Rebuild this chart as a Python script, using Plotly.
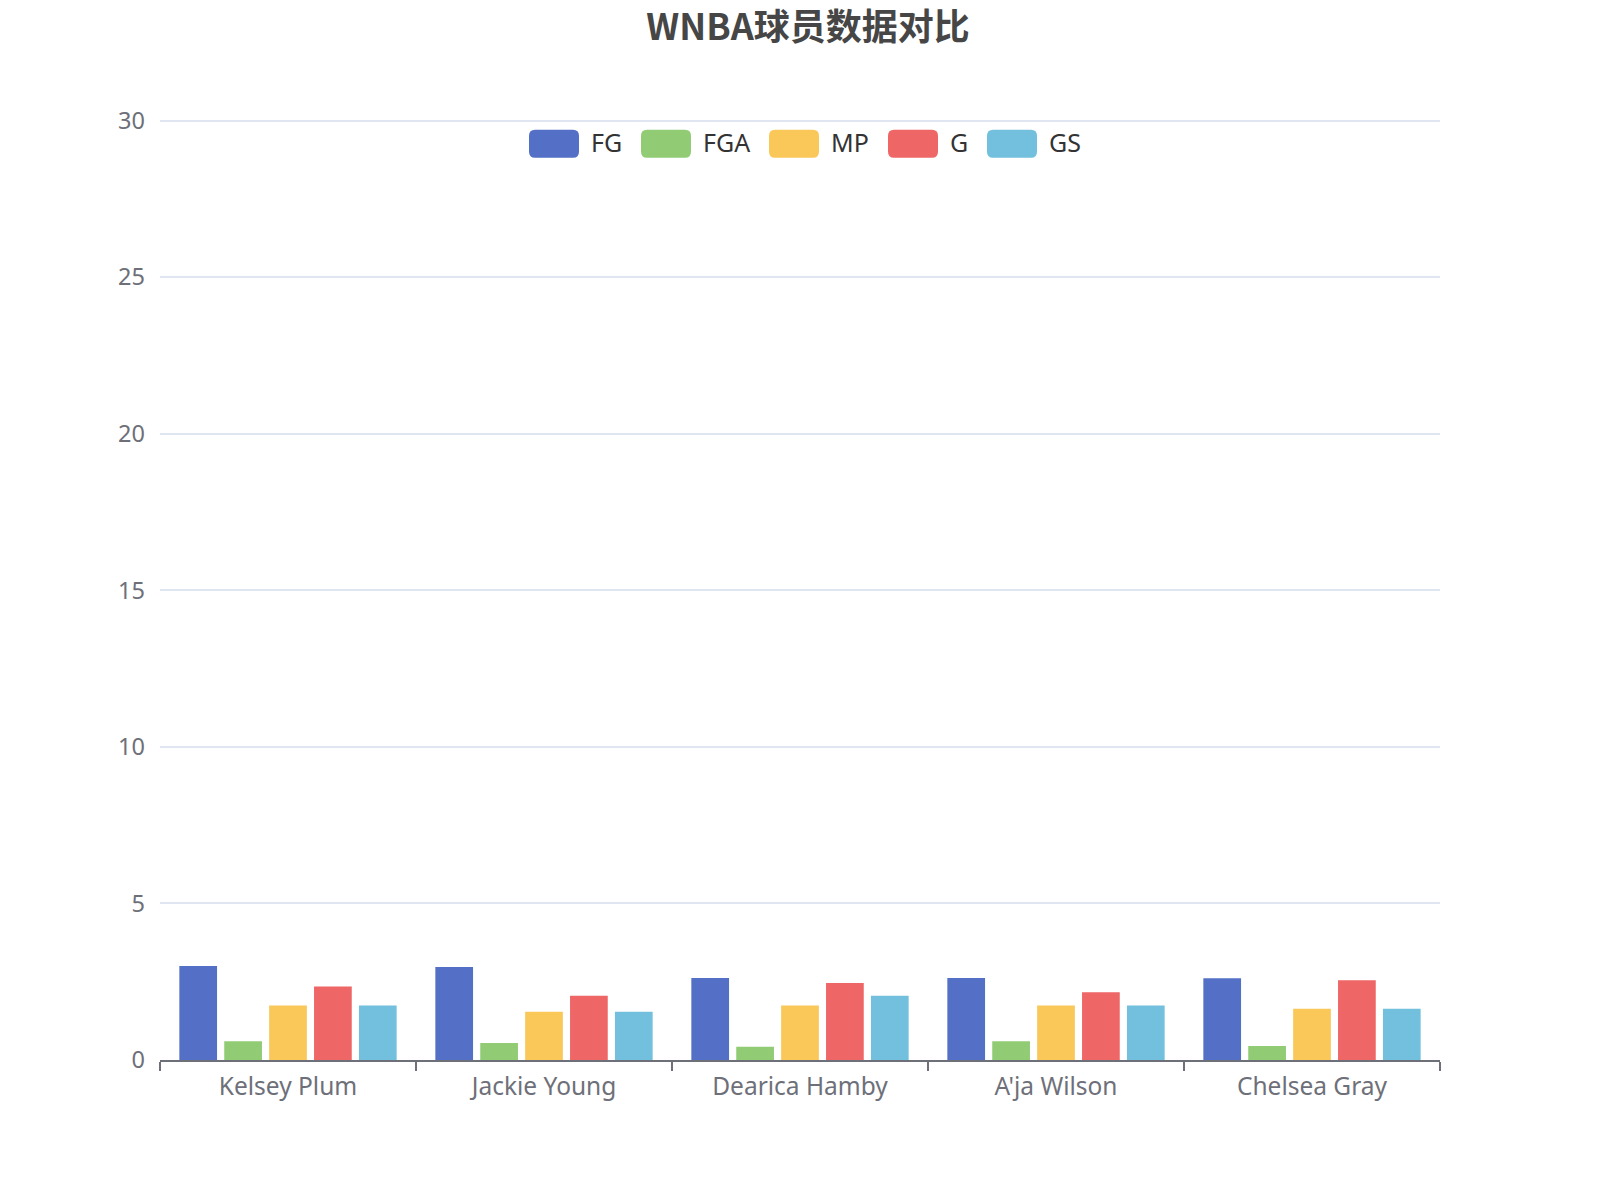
import plotly.graph_objects as go

# data
players = ["Kelsey Plum", "Jackie Young", "Dearica Hamby", "A'ja Wilson", "Chelsea Gray"]
series_names = ["FG", "FGA", "MP", "G", "GS"]
fg = [3.0, 2.97, 2.62, 2.62, 2.61]
fga = [0.6, 0.54, 0.42, 0.6, 0.45]
mp = [1.74, 1.54, 1.74, 1.74, 1.64]
g = [2.35, 2.05, 2.46, 2.16, 2.55]
gs = [1.74, 1.54, 2.05, 1.74, 1.64]
colors = ["#5470c6", "#91cc75", "#fac858", "#ee6666", "#73c0de"]
y_max = 30.15  # a bit above 30 so the top gridline gets drawn

# page body has an 8px margin, so everything is placed 8px up/left
OFF = 8
W, H = 1600, 1200
unit = (1060 - 121) / 30
top_px = 1060 - y_max * unit
L, R, T, B = 160 - OFF, 160 + OFF, top_px - OFF, 140 + OFF
pw, ph = W - L - R, H - T - B


def px_x(x):
    return (x - OFF - L) / pw


def px_y(y):
    return (H - B - (y - OFF)) / ph


def rounded_rect(x0, y0, x1, y1, r):
    # rounded rectangle path, given in page pixels, converted to paper coords
    pts = [
        ("M", x0 + r, y0), ("L", x1 - r, y0), ("Q", x1, y0, x1, y0 + r),
        ("L", x1, y1 - r), ("Q", x1, y1, x1 - r, y1), ("L", x0 + r, y1),
        ("Q", x0, y1, x0, y1 - r), ("L", x0, y0 + r), ("Q", x0, y0, x0 + r, y0),
    ]
    out = ""
    for p in pts:
        coords = p[1:]
        s = []
        for i in range(0, len(coords), 2):
            s.append(f"{px_x(coords[i]):.5f},{px_y(coords[i + 1]):.5f}")
        out += p[0] + " ".join(s) + " "
    return out + "Z"


fig = go.Figure()
for name, vals, col in zip(series_names, [fg, fga, mp, g, gs], colors):
    fig.add_trace(go.Bar(x=players, y=vals, name=name, marker_color=col,
                         marker_line_width=0, showlegend=False))

# legend drawn by hand so it looks like the echarts one
swatch_left = [529, 641, 769, 888, 987]
shapes = []
annotations = []
for name, col, xl in zip(series_names, colors, swatch_left):
    shapes.append(dict(type="path", xref="paper", yref="paper",
                       path=rounded_rect(xl, 130, xl + 50, 158, 6),
                       fillcolor=col, line_width=0))
    annotations.append(dict(x=px_x(xl + 60), y=px_y(142), xref="paper", yref="paper",
                            text=name, showarrow=False, xanchor="left", yanchor="middle",
                            font=dict(size=25, color="#333333", family="Noto Sans")))

fig.update_layout(
    width=W, height=H,
    margin=dict(l=L, r=R, t=T, b=B),
    paper_bgcolor="white", plot_bgcolor="white",
    title=dict(text="<b>WNBA球员数据对比</b>", x=0.5, xanchor="center",
               y=1 - (27 - OFF) / H, yanchor="middle", yref="container",
               font=dict(size=36, color="#464646", family="Noto Sans CJK SC")),
    barmode="group", bargap=0.123, bargroupgap=0.16,
    shapes=shapes, annotations=annotations,
    font=dict(family="Noto Sans", color="#6E7079"),
)
fig.update_xaxes(showline=True, linecolor="#6E7079", linewidth=1.5,
                 ticks="outside", tickson="boundaries", ticklen=9, tickcolor="#6E7079",
                 tickwidth=1.5, ticklabelstandoff=4,
                 tickfont=dict(size=24.5, color="#6E7079"), showgrid=False)
fig.update_yaxes(range=[0, y_max], tickvals=[0, 5, 10, 15, 20, 25, 30],
                 showgrid=True, gridcolor="#E0E6F1", gridwidth=1.5,
                 zeroline=False, showline=False, ticks="", ticklabelstandoff=14,
                 tickfont=dict(size=23.5, color="#6E7079"))

fig.write_html("out.html")
